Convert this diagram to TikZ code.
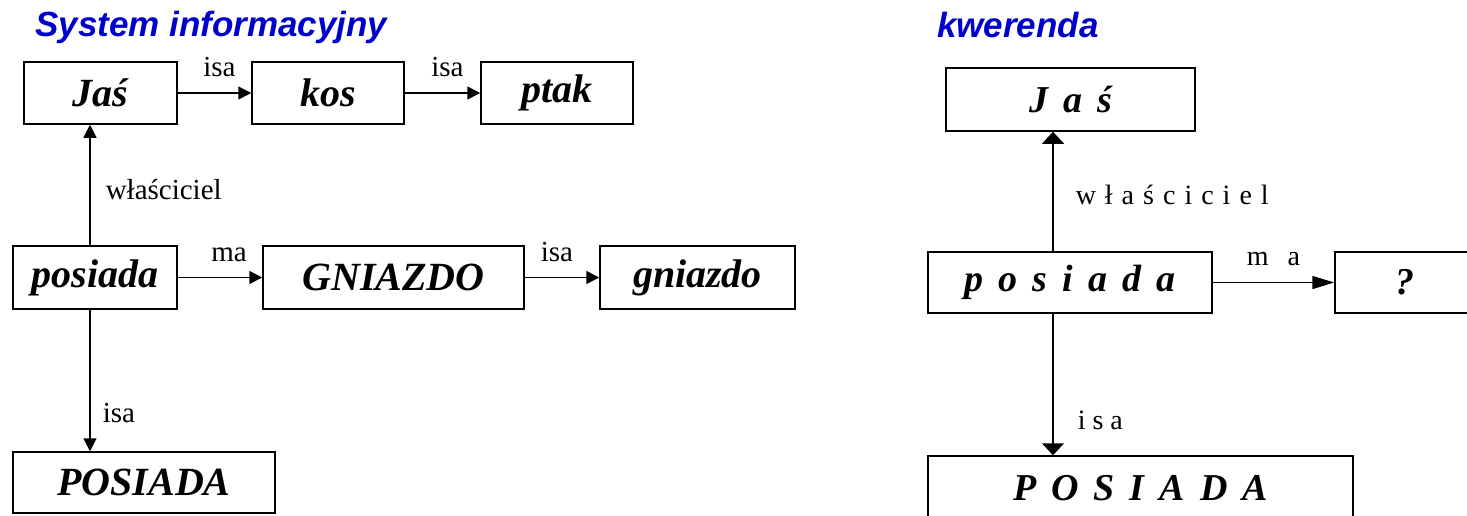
\documentclass[tikz,border=0pt]{standalone}
\usepackage{fontspec}
\setmainfont{Liberation Serif}
\newfontfamily\headfont{Liberation Sans}
\usepackage{tikz}
\usetikzlibrary{arrows.meta,positioning}
\definecolor{headblue}{RGB}{0,0,204}
\newcommand\widespace[1]{\spaceskip #1\relax}
\tikzset{
	netbox/.style = {draw, line width = 1.5pt, inner sep = 0pt, minimum height = 62,
		font = \fontsize{40}{44}\selectfont\bfseries\itshape},
	qbox/.style = {netbox, font = \fontsize{38}{42}\selectfont\bfseries\itshape\widespace{15pt}},
	lab/.style = {inner sep = 0pt, font = \fontsize{29}{32}\selectfont},
	qlab/.style = {inner sep = 0pt, font = \fontsize{28}{32}\selectfont\widespace{#1}},
	head/.style = {anchor = base west, inner sep = 0pt, text = headblue,
		font = \fontsize{35}{38}\headfont\selectfont\bfseries\itshape},
	arr/.style = {-{Triangle[length = 13pt, width = 13pt]}, line width = 1.5pt},
	qarr across/.style = {-{Triangle[length = 22pt, width = 13pt]}, line width = 1.5pt},
	qarr down/.style = {-{Triangle[length = 12pt, width = 22pt]}, line width = 1.5pt}
}
\begin{document}
\begin{tikzpicture}[x = 1pt, y = -1pt]
	\clip (0, 0) rectangle (1467, 515);

	% system informacyjny
	\node [head] (sysT) at (35, 36) {System informacyjny};
	\node [netbox, minimum width = 153] (jas) at (100.5, 93) {Jaś};
	\node [netbox, minimum width = 152] (kos) at (328, 93) {kos};
	\node [netbox, minimum width = 152] (ptak) at (557, 93) {ptak};
	\node [netbox, minimum width = 164, minimum height = 63] (posiada) at (95, 277.5) {posiada};
	\node [netbox, minimum width = 261, minimum height = 63] (GNIAZDO) at (393.5, 277.5) {GNIAZDO};
	\node [netbox, minimum width = 195, minimum height = 63] (gniazdo) at (697.5, 277.5) {gniazdo};
	\node [netbox, minimum width = 262, minimum height = 61] (POSIADA) at (144, 482.5) {POSIADA};

	\draw [arr] (jas) -- node [lab, above = 15pt, xshift = 5pt] {isa} (kos);
	\draw [arr] (kos) -- node [lab, above = 15pt, xshift = 5pt] {isa} (ptak);
	\draw [arr] (posiada) -- node [lab, above = 15pt, xshift = 9pt] {ma} (GNIAZDO);
	\draw [arr] (GNIAZDO) -- node [lab, above = 15pt, xshift = -5pt] {isa} (gniazdo);
	\draw [arr] ([xshift = -5pt]posiada.north) --
		node [lab, pos = 0.377, anchor = base west, xshift = 15pt] {właściciel}
		([xshift = -5pt]posiada.north |- jas.south);
	\draw [arr] ([xshift = -5pt]posiada.south) --
		node [lab, pos = 0.8, anchor = base west, xshift = 12pt] {isa}
		([xshift = -5pt]posiada.south |- POSIADA.north);

	% kwerenda
	\node [head] (qT) at (937, 37) {kwerenda};
	\node [qbox, minimum width = 249, minimum height = 63] (qjas) at (1070.5, 99.5) {J a ś};
	\node [qbox, minimum width = 284, minimum height = 61] (qposiada) at (1070, 282.5) {p o s i a d a};
	\node [qbox, minimum width = 140, minimum height = 61] (qwhat) at (1405, 282.5) {?};
	\node [qbox, minimum width = 425, minimum height = 64] (qPOSIADA) at (1140.5, 488) {P O S I A D A};

	\draw [qarr across] (qposiada) -- node [qlab = 19pt, above = 16pt] {m a} (qwhat);
	\draw [qarr down] ([xshift = -17pt]qposiada.north) --
		node [qlab = 9pt, pos = 0.39, anchor = base west, xshift = 22pt] {w ł a ś c i c i e l}
		([xshift = -17pt]qposiada.north |- qjas.south);
	\draw [qarr down] ([xshift = -17pt]qposiada.south) --
		node [qlab = 7pt, pos = 0.82, anchor = base west, xshift = 24pt] {i s a}
		([xshift = -17pt]qposiada.south |- qPOSIADA.north);
\end{tikzpicture}
\end{document}
